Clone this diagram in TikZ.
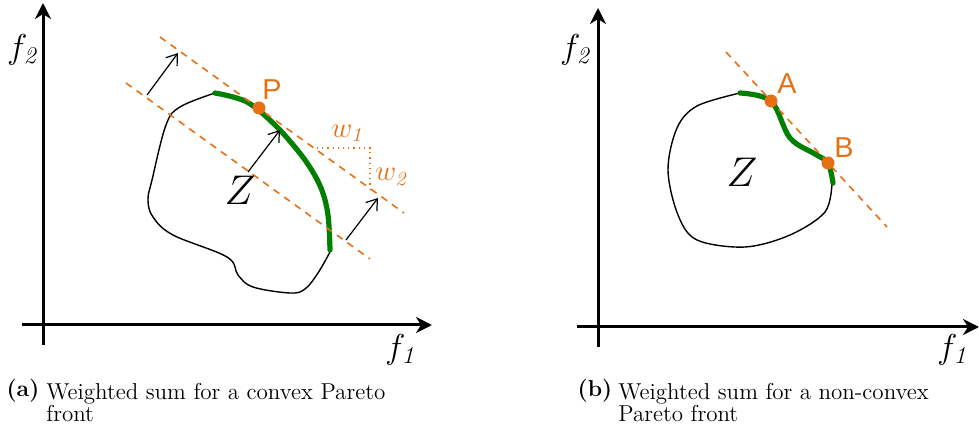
\documentclass[tikz,border=0pt]{standalone}
\usepackage{fontspec}
\usepackage{tikz}
\usetikzlibrary{arrows.meta}
\newfontfamily\labelfont{Liberation Sans}
\definecolor{weightorange}{RGB}{232,112,20}
\definecolor{frontgreen}{RGB}{0,128,0}
\tikzset{
  axis/.style={line width=1.5pt, -{Stealth[length=8pt,width=8pt,inset=2.5pt]}},
  levelline/.style={weightorange, line width=0.8pt, dash pattern=on 3.5pt off 3pt},
  shiftarrow/.style={line width=0.6pt, -{Straight Barb[length=5pt,width=7pt]}},
  boundary/.style={line width=0.7pt},
  front/.style={frontgreen, line width=2.6pt, line cap=round},
  optpoint/.style={circle, fill=weightorange, inner sep=0pt, minimum size=6.5pt},
  optlabel/.style={text=weightorange, font=\labelfont\Large},
  axislabel/.style={font=\LARGE},
  weightlabel/.style={text=weightorange, font=\Large},
  regionlabel/.style={font=\huge},
  caplabel/.style={font=\fontsize{11.5}{11}\selectfont\bfseries},
  captext/.style={font=\fontsize{11.5}{11}\selectfont, align=left, anchor=north west, inner sep=0pt}
}

\begin{document}
\begin{tikzpicture}[x=0.5pt,y=-0.5pt]
  \useasboundingbox (0,0) rectangle (979,432);

  % (a) convex front
  \coordinate (ya0) at (43,345);
  \coordinate (ya1) at (43,3);
  \coordinate (xa0) at (22,325);
  \coordinate (xa1) at (432,325);
  \draw[axis] (ya0) -- (ya1);
  \draw[axis] (xa0) -- (xa1);
  \node[axislabel] (f2a) at (22,50) {$f_{\mathit{2}}$};
  \node[axislabel] (f1a) at (400,350) {$f_{\mathit{1}}$};

  \draw[boundary] plot[smooth, tension=0.6] coordinates {(215,93) (180,107) (166,125)
    (152,180) (148,200) (153,217) (173,235) (227,257) (238,275) (253,287) (290,293)
    (305,289) (318,273) (330,252)};
  \draw[front] plot[smooth, tension=0.55] coordinates {(215,93) (247,102) (277,127)
    (305,160) (321,188) (328,215) (330,250)};

  \coordinate (la0) at (160,37);
  \coordinate (la1) at (404,213);
  \coordinate (lb0) at (126,83);
  \coordinate (lb1) at (370,259);
  \draw[levelline] (la0) -- (la1);
  \draw[levelline] (lb0) -- (lb1);

  \coordinate (sa0) at (147,95);
  \coordinate (sa1) at (178,53);
  \coordinate (sb0) at (248,172);
  \coordinate (sb1) at (280,130);
  \coordinate (sc0) at (346,240);
  \coordinate (sc1) at (378,198);
  \draw[shiftarrow] (sa0) -- (sa1);
  \draw[shiftarrow] (sb0) -- (sb1);
  \draw[shiftarrow] (sc0) -- (sc1);

  \coordinate (wa) at (317,148);
  \coordinate (wb) at (370,148);
  \coordinate (wc) at (370,189);
  \draw[weightorange, line width=0.6pt, dotted] (wa) -- (wb) -- (wc);
  \node[weightlabel] (w1) at (347,133) {$w_{\mathit{1}}$};
  \node[weightlabel] (w2) at (391,177) {$w_{\mathit{2}}$};

  \node[optpoint] (P) at (259,108) {};
  \node[optlabel] (Plbl) at (272,90) {P};
  \node[regionlabel] (Za) at (240,190) {$Z$};

  % (b) non-convex front
  \coordinate (yb0) at (598,347);
  \coordinate (yb1) at (598,8);
  \coordinate (xb0) at (577,327);
  \coordinate (xb1) at (979,327);
  \draw[axis] (yb0) -- (yb1);
  \draw[axis] (xb0) -- (xb1);
  \node[axislabel] (f2b) at (575,50) {$f_{\mathit{2}}$};
  \node[axislabel] (f1b) at (952,350) {$f_{\mathit{1}}$};

  \draw[boundary] plot[smooth, tension=0.55] coordinates {(740,93) (697,106) (677,128)
    (668,170) (678,215) (697,240) (745,247) (790,235) (825,212) (832,183)};
  \draw[front] plot[smooth, tension=0.55] coordinates {(740,93) (771,101) (790,138)
    (815,154) (828,163) (833,183)};

  \coordinate (lc0) at (726,52);
  \coordinate (lc1) at (887,227);
  \draw[levelline] (lc0) -- (lc1);

  \node[optpoint] (A) at (771,101) {};
  \node[optpoint] (B) at (828,163) {};
  \node[optlabel] (Albl) at (787,84) {A};
  \node[optlabel] (Blbl) at (844,148) {B};
  \node[regionlabel] (Zb) at (742,172) {$Z$};

  % captions
  \node[caplabel] (capa) at (23,391) {(a)};
  \node[captext] (txta) at (46,383) {Weighted sum for a convex Pareto\\front};
  \node[caplabel] (capb) at (595,391) {(b)};
  \node[captext] (txtb) at (618,383) {Weighted sum for a non-convex\\Pareto front};
\end{tikzpicture}
\end{document}
